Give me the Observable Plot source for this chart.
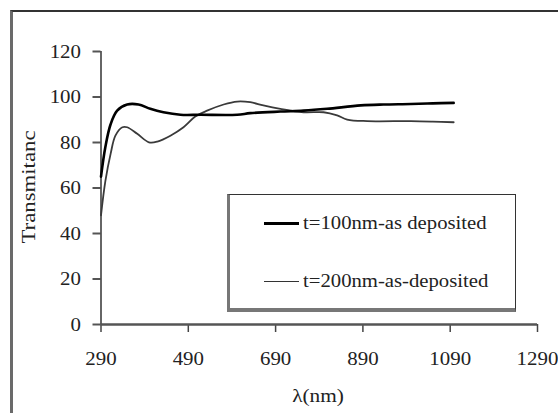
<!DOCTYPE html>
<html>
<head>
<meta charset="utf-8">
<script src="https://cdn.jsdelivr.net/npm/d3@7"></script>
<script src="https://cdn.jsdelivr.net/npm/@observablehq/plot@0.6"></script>
<style>
  html, body { margin: 0; padding: 0; background: #fff; }
  #wrap { position: relative; width: 558px; height: 413px; overflow: hidden; font-family: "Liberation Serif", "DejaVu Serif", serif; color: #222; }
  #frame { position: absolute; left: 10px; top: 10px; width: 560px; height: 420px; border-top: 2px solid #333; border-left: 3px solid #6a6a6a; box-sizing: border-box; }
  #chart { position: absolute; left: 0; top: 0; }
  .lbl { position: absolute; font-size: 19px; white-space: nowrap; }
  #ylab { left: 29px; top: 187px; transform: translate(-50%, -50%) rotate(-90deg) scaleX(1.2); }
  #xlab { left: 318px; top: 396px; transform: translate(-50%, -50%) scaleX(1.12); }
  #legend { position: absolute; left: 227px; top: 194px; width: 289px; height: 118px; box-sizing: border-box; border: 1px solid #333; border-left: 3px solid #777; border-bottom: 4px solid #777; background: #fff; }
  .item { position: absolute; left: 34px; height: 20px; display: flex; align-items: center; }
  .swatch { width: 35px; margin-right: 4px; }
  .item span { font-size: 18px; display: inline-block; transform-origin: left center; transform: scaleX(1.15); }
</style>
</head>
<body>
<div id="wrap">
  <div id="frame"></div>
  <div id="chart"></div>
  <div id="legend"></div>
  <div id="ylab" class="lbl"></div>
  <div id="xlab" class="lbl"></div>
</div>
<script>
// Series names
const seriesNames = ["t=100nm-as deposited", "t=200nm-as-deposited"];
// Series: t=100nm-as deposited
const lambda100 = [290, 300, 312, 327, 350, 376, 403, 433, 472, 518, 602, 632, 701, 754, 808, 885, 937, 1000, 1050, 1098];
const t100      = [65, 78, 88, 94, 96.7, 96.7, 94.8, 93.3, 92.2, 92.2, 92.2, 92.9, 93.6, 94, 94.8, 96.3, 96.7, 96.9, 97.2, 97.4];
// Series: t=200nm-as-deposited
const lambda200 = [290, 300, 312, 323, 339, 350, 373, 400, 419, 449, 479, 506, 533, 571, 602, 632, 662, 701, 754, 800, 831, 854, 900, 1000, 1050, 1098];
const t200      = [48, 63, 75, 83, 86.7, 86.7, 83.8, 80.1, 80.4, 83, 86.7, 91.4, 94, 96.7, 98, 97.7, 96.3, 94.8, 93.3, 93.3, 91.9, 90.1, 89.4, 89.4, 89.2, 88.9];
// Axis ticks and labels
const xTicks = [290, 490, 690, 890, 1090, 1290];
const yTicks = [0, 20, 40, 60, 80, 100, 120];
const xLabel = "λ(nm)";
const yLabel = "Transmitanc";

const data100 = lambda100.map((x, i) => ({x, y: t100[i]}));
const data200 = lambda200.map((x, i) => ({x, y: t200[i]}));

const chart = Plot.plot({
  width: 558,
  height: 413,
  marginLeft: 100.5,
  marginRight: 21,
  marginTop: 51,
  marginBottom: 89,
  style: { fontFamily: "Liberation Serif, serif", fontSize: "19px", color: "#222", background: "transparent" },
  x: { domain: [290, 1290] },
  y: { domain: [0, 120] },
  marks: [
    Plot.axisY({ ticks: yTicks, tickSize: 8, tickPadding: 12, label: null, stroke: "#555", strokeWidth: 2, tickFormat: d => String(d) }),
    Plot.axisX({ ticks: xTicks, tickSize: 8, tickPadding: 19, label: null, stroke: "#444", strokeWidth: 1.5, tickFormat: d => String(d) }),
    Plot.ruleX([290], { y1: 0, y2: 120, stroke: "#333", strokeWidth: 1.5 }),
    Plot.ruleY([0], { x1: 290, x2: 1290, stroke: "#555", strokeWidth: 2.5 }),
    Plot.line(data200, { x: "x", y: "y", stroke: "#3a3a3a", strokeWidth: 1.8, curve: "catmull-rom" }),
    Plot.line(data100, { x: "x", y: "y", stroke: "#000", strokeWidth: 2.6, curve: "catmull-rom" })
  ]
});
chart.querySelectorAll('[aria-label="x-axis tick label"] text, [aria-label="y-axis tick label"] text').forEach(t => {
  t.setAttribute("transform", (t.getAttribute("transform") || "") + " scale(1.1,1)");
});
document.getElementById("chart").appendChild(chart);

document.getElementById("xlab").textContent = xLabel;
document.getElementById("ylab").textContent = yLabel;

const legend = document.getElementById("legend");
const swatchWidths = [3, 1.2];
const swatchColors = ["#000", "#333"];
seriesNames.forEach((name, i) => {
  const item = document.createElement("div");
  item.className = "item";
  item.style.top = (i === 0 ? 18 : 76) + "px";
  const sw = document.createElement("div");
  sw.className = "swatch";
  sw.style.borderTop = swatchWidths[i] + "px solid " + swatchColors[i];
  const sp = document.createElement("span");
  sp.textContent = name;
  item.appendChild(sw);
  item.appendChild(sp);
  legend.appendChild(item);
});
</script>
</body>
</html>
